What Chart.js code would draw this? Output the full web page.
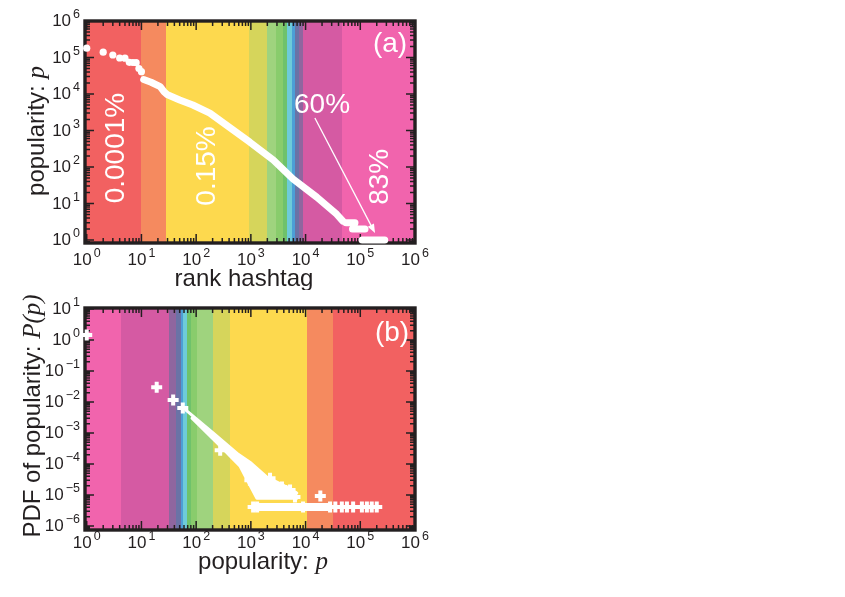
<!DOCTYPE html>
<html>
<head>
<meta charset="utf-8">
<script src="https://cdn.jsdelivr.net/npm/chart.js@4.4.1/dist/chart.umd.min.js"></script>
<style>
  html, body { margin: 0; padding: 0; background: #fff; }
  #page { position: relative; width: 845px; height: 597px; }
  .box { position: absolute; left: 0; width: 440px; }
  #boxA { top: 0; height: 290px; }
  #boxB { top: 290px; height: 307px; }
</style>
</head>
<body>
<div id="page">
  <div class="box" id="boxA"><canvas id="chartA"></canvas></div>
  <div class="box" id="boxB"><canvas id="chartB"></canvas></div>
</div>
<script>
// --- (a) popularity of each hashtag against its rank ---
const rankTop = [1, 2, 3, 4, 5, 6, 7, 8, 9, 10];
const popTop = [180000, 140000, 117000, 97000, 96000, 74000, 73000, 72000, 50000, 41000];
const rankBody = [11, 15, 22, 26, 30, 50, 87, 178, 960, 2570, 5900, 16000, 37000, 48000];
const popBody = [25000, 21000, 16000, 11500, 9500, 6900, 5000, 3000, 480, 155, 47, 15, 5.1, 3.3];
const rankStepFrom = [55000, 72000, 108000];
const rankStepTo = [80000, 122000, 280000];
const popStep = [3, 2, 1];
const rankBandEdges = [0.93, 10, 28, 930, 1960, 2900, 3850, 4550, 5650, 6400, 7600, 8900, 46000, 1e6];

// --- (b) PDF of popularity ---
const pSingle = [1, 19, 38, 57, 18600];
const pdfSingle = [1.45, 0.030, 0.0115, 0.0064, 9.3e-6];
const pUpper = [65, 204, 560, 960, 1960, 3850, 6900];
const pdfUpper = [5.5e-3, 1.0e-3, 2.2e-4, 1.15e-4, 3.8e-5, 2.1e-5, 1.15e-5];
const pLower = [84, 275, 630, 960, 1290, 6900];
const pdfLower = [3.0e-3, 3.8e-4, 8.7e-5, 2.1e-5, 7.9e-6, 7.9e-6];
const pCloud = [275, 960, 2240, 3700, 5200, 6400];
const pdfCloud = [2.8e-4, 3.0e-5, 3.5e-5, 1.8e-5, 1.45e-5, 8.7e-6];
const pFloor = [1100, 1300, 9000, 28000];
const pFloorFar = [35000, 46000, 57000, 74000, 107000, 132000, 162000, 200000];
const pdfFloor = 4.1e-6;
const pBandEdges = [0.93, 4.2, 32, 43, 52, 57, 68, 80, 103, 204, 415, 10600, 32000, 1e6];

// band colours, red end -> pink end
const RED = '#f26161', ORANGE = '#f58a5f', YELLOW = '#fdd94e', OLIVE = '#d6d55b',
      LGREEN = '#9fd37e', GREEN = '#89cc6c', MGREEN = '#6fc26b', CYAN = '#6ecbd9',
      BLUE = '#4c9fd6', SLATE = '#6a73a6', PURPLE = '#8f669f', MAGENTA = '#d55aa3', PINK = '#f164ad';
const rankBandColors = [RED, ORANGE, YELLOW, OLIVE, LGREEN, GREEN, MGREEN, CYAN, BLUE, SLATE, PURPLE, MAGENTA, PINK];
const pBandColors = [PINK, MAGENTA, PURPLE, SLATE, BLUE, CYAN, MGREEN, GREEN, LGREEN, OLIVE, YELLOW, ORANGE, RED];

const INK = '#231f20';
const SANS = '"Liberation Sans", Arial, Helvetica, sans-serif';
const SERIF = '"Liberation Serif", "Times New Roman", serif';

const pts = (xs, ys) => xs.map((x, i) => ({ x, y: Array.isArray(ys) ? ys[i] : ys }));

function steps(from, to, vals) {
  const out = [];
  from.forEach((s, i) => out.push({ x: s, y: vals[i] }, { x: to[i], y: vals[i] }, { x: to[i], y: null }));
  return out;
}

function logTicks(min, max) {
  const out = [];
  for (let e = Math.floor(Math.log10(min)); e <= Math.ceil(Math.log10(max)); e++) {
    for (let m = 1; m < 10; m++) {
      const v = m * Math.pow(10, e);
      if (v >= min * 0.999 && v <= max * 1.001) out.push({ v, e, major: m === 1 });
    }
  }
  return out;
}

function drawPow(ctx, e, px, base, align) {
  const b = '10', ex = e < 0 ? '\u2212' + (-e) : String(e);
  ctx.font = '17px ' + SANS;
  const wb = ctx.measureText(b).width;
  ctx.font = '12.5px ' + SANS;
  const we = ctx.measureText(ex).width;
  const total = wb + 2 + we;
  const left = align === 'center' ? px - total / 2 : px - total;
  ctx.textAlign = 'left';
  ctx.textBaseline = 'alphabetic';
  ctx.font = '17px ' + SANS;
  ctx.fillText(b, left, base);
  ctx.font = '12.5px ' + SANS;
  ctx.fillText(ex, left + wb + 2, base - 8);
}

function drawParts(ctx, parts, cx, cy, rot) {
  ctx.save();
  ctx.translate(cx, cy);
  if (rot) ctx.rotate(-Math.PI / 2);
  let total = 0;
  parts.forEach(p => { ctx.font = p.font; p.w = ctx.measureText(p.text).width; total += p.w; });
  let x = -total / 2;
  ctx.textAlign = 'left';
  ctx.textBaseline = 'alphabetic';
  ctx.fillStyle = INK;
  parts.forEach(p => { ctx.font = p.font; ctx.fillText(p.text, x, 0); x += p.w; });
  ctx.restore();
}

function panelPlugin(cfg) {
  return {
    id: 'panel' + cfg.tag,
    beforeDatasetsDraw(chart) {
      const { ctx, chartArea: a, scales: { x, y } } = chart;
      ctx.save();
      for (let i = 0; i < cfg.colors.length; i++) {
        const x0 = Math.round(Math.max(a.left, x.getPixelForValue(cfg.edges[i])));
        const x1 = Math.round(Math.min(a.right, x.getPixelForValue(cfg.edges[i + 1])));
        ctx.fillStyle = cfg.colors[i];
        ctx.fillRect(x0, a.top, x1 - x0 + (i < cfg.colors.length - 1 ? 0.5 : 0), a.bottom - a.top);
      }
      ctx.strokeStyle = INK;
      ctx.lineWidth = 1.5;
      ctx.beginPath();
      logTicks(x.min, x.max).forEach(t => {
        const px = x.getPixelForValue(t.v), len = t.major ? 9 : 5;
        ctx.moveTo(px, a.bottom); ctx.lineTo(px, a.bottom - len);
        ctx.moveTo(px, a.top); ctx.lineTo(px, a.top + len);
      });
      logTicks(y.min, y.max).forEach(t => {
        const py = y.getPixelForValue(t.v), len = t.major ? 9 : 5;
        ctx.moveTo(a.left, py); ctx.lineTo(a.left + len, py);
        ctx.moveTo(a.right, py); ctx.lineTo(a.right - len, py);
      });
      ctx.stroke();
      ctx.lineWidth = 3.4;
      ctx.strokeRect(a.left, a.top, a.right - a.left, a.bottom - a.top);
      ctx.restore();
    },
    afterDatasetsDraw(chart) {
      const { ctx, scales: { x, y } } = chart;
      ctx.save();
      ctx.fillStyle = '#fff';
      ctx.strokeStyle = '#fff';
      if (cfg.arrow) {
        const x0 = x.getPixelForValue(cfg.arrow.from[0]), y0 = y.getPixelForValue(cfg.arrow.from[1]);
        const x1 = x.getPixelForValue(cfg.arrow.to[0]), y1 = y.getPixelForValue(cfg.arrow.to[1]);
        const ang = Math.atan2(y1 - y0, x1 - x0);
        ctx.lineWidth = 1.3;
        ctx.beginPath(); ctx.moveTo(x0, y0);
        ctx.lineTo(x1 - 7 * Math.cos(ang), y1 - 7 * Math.sin(ang)); ctx.stroke();
        ctx.beginPath();
        ctx.moveTo(x1, y1);
        ctx.lineTo(x1 - 9 * Math.cos(ang) + 3.5 * Math.sin(ang), y1 - 9 * Math.sin(ang) - 3.5 * Math.cos(ang));
        ctx.lineTo(x1 - 9 * Math.cos(ang) - 3.5 * Math.sin(ang), y1 - 9 * Math.sin(ang) + 3.5 * Math.cos(ang));
        ctx.closePath(); ctx.fill();
      }
      ctx.font = '28px ' + SANS;
      ctx.textAlign = 'center';
      ctx.textBaseline = 'middle';
      cfg.notes.forEach(n => {
        ctx.save();
        ctx.translate(x.getPixelForValue(n.x), y.getPixelForValue(n.y));
        if (n.rot) ctx.rotate(-Math.PI / 2);
        ctx.fillText(n.text, 0, 0);
        ctx.restore();
      });
      ctx.restore();
    },
    afterDraw(chart) {
      const { ctx, chartArea: a, scales: { x, y } } = chart;
      ctx.save();
      ctx.fillStyle = INK;
      logTicks(x.min, x.max).filter(t => t.major).forEach(t => {
        drawPow(ctx, t.e, x.getPixelForValue(t.v), a.bottom + cfg.xLabelGap, 'center');
      });
      logTicks(y.min, y.max).filter(t => t.major).forEach(t => {
        drawPow(ctx, t.e, 80, y.getPixelForValue(t.v) + 5, 'right');
      });
      drawParts(ctx, cfg.xTitle, cfg.xTitlePos[0], cfg.xTitlePos[1], false);
      drawParts(ctx, cfg.yTitle, cfg.yTitlePos[0], cfg.yTitlePos[1], true);
      ctx.restore();
    }
  };
}

function baseOptions(xr, yr, pad) {
  return {
    responsive: true,
    maintainAspectRatio: false,
    animation: false,
    devicePixelRatio: 1,
    events: [],
    layout: { padding: pad },
    plugins: { legend: { display: false }, tooltip: { enabled: false } },
    scales: {
      x: { type: 'logarithmic', min: xr[0], max: xr[1], display: false },
      y: { type: 'logarithmic', min: yr[0], max: yr[1], display: false }
    }
  };
}

const dot = { showLine: false, pointRadius: 3.6, pointBackgroundColor: '#fff', pointBorderWidth: 0, borderColor: '#fff', clip: false };
const plus = { showLine: false, pointStyle: 'cross', pointRadius: 5.5, pointBorderWidth: 4, pointBorderColor: '#fff', borderColor: '#fff', clip: false };
const thick = (w) => ({ borderColor: '#fff', borderWidth: w, borderCapStyle: 'round', borderJoinStyle: 'round', pointRadius: 0, tension: 0, clip: false });

const titleFont = '24px ' + SANS;
const italicFont = 'italic 25px ' + SERIF;

new Chart(document.getElementById('chartA'), {
  type: 'line',
  data: {
    datasets: [
      { ...dot, data: pts(rankTop, popTop) },
      { ...thick(7), data: pts(rankBody, popBody) },
      { ...thick(7), data: steps(rankStepFrom, rankStepTo, popStep), spanGaps: false }
    ]
  },
  options: baseOptions([0.93, 1e6], [0.83, 1e6], { left: 85, top: 21, right: 25, bottom: 47 }),
  plugins: [panelPlugin({
    tag: 'A',
    edges: rankBandEdges,
    colors: rankBandColors,
    notes: [
      { text: '0.0001%', x: 3.4, y: 330, rot: true },
      { text: '0.15%', x: 158, y: 107, rot: true },
      { text: '83%', x: 230000, y: 54, rot: true },
      { text: '60%', x: 20000, y: 5000 },
      { text: '(a)', x: 350000, y: 230000 }
    ],
    arrow: { from: [14800, 2200], to: [186000, 1.55] },
    xLabelGap: 22,
    xTitle: [{ text: 'rank hashtag', font: titleFont }],
    xTitlePos: [244, 286],
    yTitle: [{ text: 'popularity: ', font: titleFont }, { text: 'p', font: italicFont }],
    yTitlePos: [44, 131]
  })]
});

new Chart(document.getElementById('chartB'), {
  type: 'line',
  data: {
    datasets: [
      { ...thick(3), data: pts(pUpper, pdfUpper), fill: '+1', backgroundColor: '#fff' },
      { ...thick(3), data: pts(pLower, pdfLower) },
      { ...plus, data: pts(pSingle, pdfSingle) },
      { ...plus, data: pts(pCloud, pdfCloud) },
      { ...thick(8), borderCapStyle: 'butt', data: pts(pFloor, pdfFloor), pointStyle: 'cross', pointRadius: 5.5, pointBorderWidth: 4, pointBorderColor: '#fff' },
      { ...plus, data: pts(pFloorFar, pdfFloor) }
    ]
  },
  options: baseOptions([0.93, 1e6], [7.43e-7, 10.77], { left: 85, top: 18, right: 25, bottom: 67 }),
  plugins: [panelPlugin({
    tag: 'B',
    edges: pBandEdges,
    colors: pBandColors,
    notes: [{ text: '(b)', x: 380000, y: 1.7 }],
    xLabelGap: 18,
    xTitle: [{ text: 'popularity: ', font: titleFont }, { text: 'p', font: italicFont }],
    xTitlePos: [263, 279],
    yTitle: [{ text: 'PDF of popularity: ', font: titleFont }, { text: 'P(p)', font: italicFont }],
    yTitlePos: [40, 126]
  })]
});
</script>
</body>
</html>
